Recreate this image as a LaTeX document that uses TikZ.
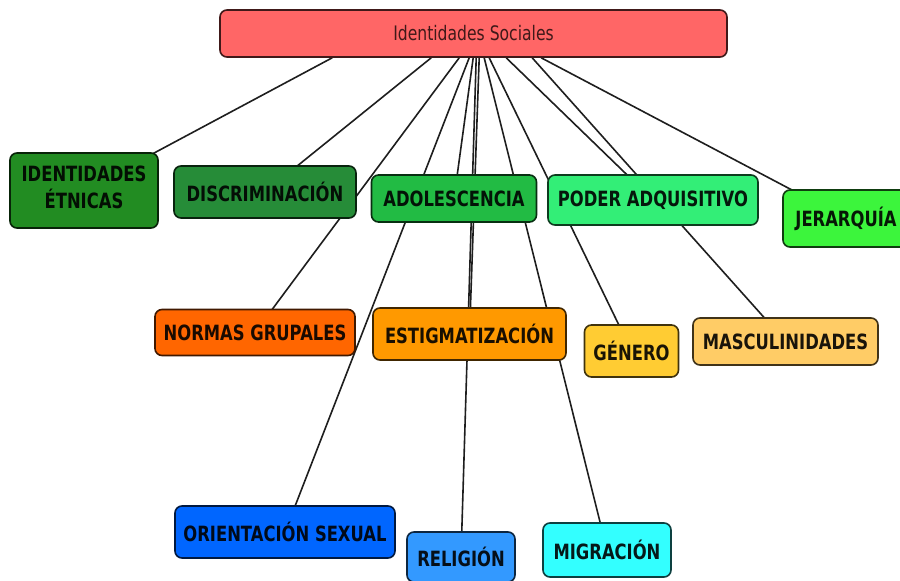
\documentclass[tikz,border=0pt]{standalone}
\usepackage{fontspec}
\usepackage{graphicx}
\setmainfont{DejaVu Sans}
\usetikzlibrary{calc,backgrounds}
\newcommand{\sq}[1]{\scalebox{0.78}[1]{#1}}
\definecolor{cRoot}{RGB}{255,102,102}
\definecolor{cEtn}{RGB}{34,140,34}
\definecolor{cDis}{RGB}{38,140,56}
\definecolor{cAdo}{RGB}{34,187,68}
\definecolor{cPod}{RGB}{51,238,119}
\definecolor{cJer}{RGB}{60,245,60}
\definecolor{cNor}{RGB}{255,102,0}
\definecolor{cEst}{RGB}{255,153,0}
\definecolor{cGen}{RGB}{255,204,51}
\definecolor{cMas}{RGB}{255,204,102}
\definecolor{cOri}{RGB}{0,102,255}
\definecolor{cRel}{RGB}{51,153,255}
\definecolor{cMig}{RGB}{51,255,255}
\definecolor{cLine}{RGB}{30,30,30}
\tikzset{
  cbox/.style={draw=#1!25!black, fill=#1, text=#1!10!black, rounded corners=7pt,
    line width=1.6pt, inner sep=0pt, align=center,
    font=\bfseries\fontsize{21}{24}\selectfont},
  link/.style={draw=cLine, line width=1.6pt}
}
\begin{document}
\begin{tikzpicture}[x=1pt,y=-1pt]
\useasboundingbox (0,0) rectangle (900,581);
% root
\node[cbox=cRoot, text=cRoot!25!black, font=\fontsize{20}{24}\selectfont,
  minimum width=507pt, minimum height=47pt] (root) at (473.5,33.5) {\scalebox{0.78}[1]{Identidades Sociales}};
% children
\node[cbox=cEtn, minimum width=148pt, minimum height=75pt] (etn) at (84,190.5)
  {\sq{\begin{tabular}{@{}c@{}}IDENTIDADES\\ÉTNICAS\end{tabular}}};
\node[cbox=cDis, minimum width=182pt, minimum height=52pt] (dis) at (265,192) {\sq{DISCRIMINACIÓN}};
\node[cbox=cAdo, minimum width=165pt, minimum height=47pt] (ado) at (454,198.5) {\sq{ADOLESCENCIA}};
\node[cbox=cPod, minimum width=210pt, minimum height=50pt] (pod) at (653,200) {\sq{PODER ADQUISITIVO}};
\node[cbox=cJer, minimum width=126pt, minimum height=57pt] (jer) at (846,218.5) {\sq{JERARQUÍA}};
\node[cbox=cNor, minimum width=200pt, minimum height=46pt] (nor) at (255,332.5) {\sq{NORMAS GRUPALES}};
\node[cbox=cEst, minimum width=193pt, minimum height=52pt] (est) at (469.5,334) {\sq{ESTIGMATIZACIÓN}};
\node[cbox=cGen, minimum width=94pt, minimum height=52pt] (gen) at (631.5,351) {\sq{GÉNERO}};
\node[cbox=cMas, minimum width=185pt, minimum height=47pt] (mas) at (785.5,341.5) {\sq{MASCULINIDADES}};
\node[cbox=cOri, minimum width=220pt, minimum height=52pt] (ori) at (285,532) {\sq{ORIENTACIÓN SEXUAL}};
\node[cbox=cRel, minimum width=108pt, minimum height=50pt] (rel) at (461,557) {\sq{RELIGIÓN}};
\node[cbox=cMig, minimum width=128pt, minimum height=54pt] (mig) at (607,550) {\sq{MIGRACIÓN}};
% connector origins on the root's lower edge
\coordinate (o1) at ($(root.south west)+(113,0)$);
\coordinate (o2) at ($(root.south west)+(212,0)$);
\coordinate (o3) at ($(root.south west)+(240,0)$);
\coordinate (o4) at ($(root.south west)+(250,0)$);
\coordinate (o5) at ($(root.south west)+(254,0)$);
\coordinate (o6) at ($(root.south west)+(257,0)$);
\coordinate (o7) at ($(root.south west)+(260,0)$);
\coordinate (o8) at ($(root.south west)+(265,0)$);
\coordinate (o9) at ($(root.south west)+(270,0)$);
\coordinate (o10) at ($(root.south west)+(287,0)$);
\coordinate (o11) at ($(root.south west)+(313,0)$);
\coordinate (o12) at ($(root.south west)+(322,0)$);
\begin{scope}[on background layer]
  \fill[white] (0,0) rectangle (900,581);
  \draw[link] (o1) -- (etn.center);
  \draw[link] (o2) -- (dis.center);
  \draw[link] (o3) -- (nor.center);
  \draw[link] (o4) -- (ori.center);
  \draw[link] (o5) -- (ado.center);
  \draw[link] (o6) -- (rel.center);
  \draw[link] (o7) -- (est.center);
  \draw[link] (o8) -- (mig.center);
  \draw[link] (o9) -- (gen.center);
  \draw[link] (o10) -- (pod.center);
  \draw[link] (o11) -- (mas.center);
  \draw[link] (o12) -- (jer.center);
\end{scope}
\end{tikzpicture}
\end{document}
